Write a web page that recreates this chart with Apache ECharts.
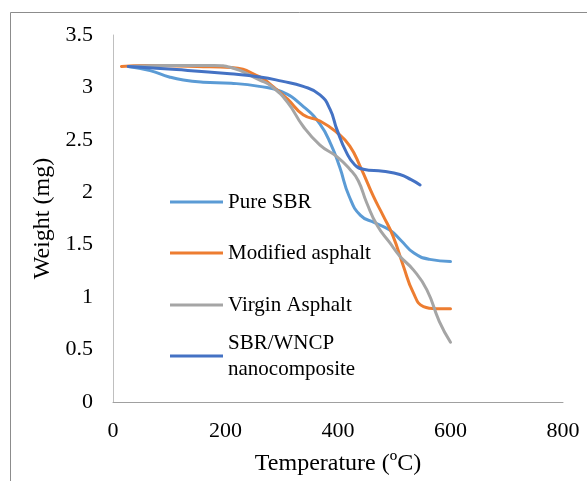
<!DOCTYPE html>
<html>
<head>
<meta charset="utf-8">
<title>Weight vs Temperature</title>
<script src="https://cdn.jsdelivr.net/npm/echarts@6/dist/echarts.min.js"></script>
<style>
  html, body { margin: 0; padding: 0; background: #fff; }
  #chart { width: 587px; height: 481px; }
</style>
</head>
<body>
<div id="chart"></div>
<script>
// Thermogravimetric curves: [temperature (°C), weight (mg)]
const pureSBR = [
  [27, 3.20], [66, 3.16], [100, 3.10], [125, 3.07], [160, 3.05], [210, 3.04],
  [260, 3.01], [300, 2.96], [338, 2.82], [368, 2.65], [388, 2.45], [403, 2.24],
  [420, 1.96], [440, 1.78], [465, 1.71], [492, 1.64], [512, 1.54], [535, 1.42],
  [563, 1.36], [600, 1.34]
];
const modifiedAsphalt = [
  [15, 3.20], [60, 3.21], [150, 3.20], [210, 3.19], [261, 3.10], [282, 3.02],
  [310, 2.89], [338, 2.74], [368, 2.68], [398, 2.57], [421, 2.44], [440, 2.24],
  [463, 1.96], [480, 1.78], [498, 1.58], [516, 1.30], [534, 1.04], [552, 0.91],
  [575, 0.89], [600, 0.89]
];
const virginAsphalt = [
  [27, 3.20], [100, 3.21], [180, 3.21], [210, 3.19], [261, 3.07], [282, 3.01],
  [310, 2.86], [338, 2.63], [368, 2.45], [398, 2.34], [421, 2.22], [436, 2.11],
  [451, 1.90], [470, 1.68], [492, 1.52], [510, 1.39], [534, 1.26], [558, 1.07],
  [580, 0.77], [600, 0.57]
];
const sbrWncp = [
  [27, 3.20], [113, 3.17], [208, 3.13], [261, 3.10], [300, 3.06], [338, 3.01],
  [368, 2.93], [386, 2.79], [398, 2.60], [415, 2.38], [430, 2.26], [445, 2.22],
  [480, 2.20], [510, 2.17], [530, 2.12], [546, 2.07]
];

const seriesNames = ['Pure SBR', 'Modified asphalt', 'Virgin Asphalt', 'SBR/WNCP\nnanocomposite'];
const seriesColors = ['#5B9BD5', '#ED7D31', '#A5A5A5', '#4472C4'];
const seriesData = [pureSBR, modifiedAsphalt, virginAsphalt, sbrWncp];

const xTicks = { min: 0, max: 800, interval: 200 };
const yTicks = { min: 0, max: 3.5, interval: 0.5 };

const FONT = 'Liberation Serif, Times New Roman, serif';
const chart = echarts.init(document.getElementById('chart'), null, { renderer: 'canvas' });

// One legend block per series so each entry sits at its own spot
const legendTops = [189, 240, 292, 317];
const legends = seriesNames.map((name, i) => ({
  data: [name],
  left: 170,
  top: legendTops[i],
  padding: 0,
  orient: 'vertical',
  icon: 'rect',
  itemWidth: 53,
  itemHeight: 3,
  selectedMode: false,
  textStyle: {
    fontFamily: FONT,
    fontSize: 21,
    color: '#000',
    lineHeight: 26,
    padding: i === 3 ? [26, 0, 0, 0] : 0
  }
}));

chart.setOption({
  animation: false,
  backgroundColor: '#fff',
  graphic: [{
    type: 'rect',
    shape: { x: 10.5, y: 12.5, width: 800, height: 700 },
    style: { fill: 'none', stroke: '#8c8c8c', lineWidth: 1 },
    silent: true,
    z: -1
  }],
  grid: { left: 113, right: 24, top: 35, bottom: 78, containLabel: false },
  legend: legends,
  xAxis: {
    type: 'value',
    min: xTicks.min, max: xTicks.max, interval: xTicks.interval,
    name: 'Temperature (ºC)',
    nameLocation: 'middle',
    nameGap: 50,
    nameTextStyle: { fontFamily: FONT, fontSize: 24, color: '#000' },
    axisLine: { show: true, lineStyle: { color: '#A0A0A0', width: 1 } },
    axisTick: { show: false },
    splitLine: { show: false },
    axisLabel: { fontFamily: FONT, fontSize: 22, color: '#000', margin: 18 }
  },
  yAxis: {
    type: 'value',
    min: yTicks.min, max: yTicks.max, interval: yTicks.interval,
    name: 'Weight (mg)',
    nameLocation: 'middle',
    nameGap: 58,
    nameTextStyle: { fontFamily: FONT, fontSize: 24, color: '#000' },
    axisLine: { show: true, lineStyle: { color: '#BFBFBF', width: 1 } },
    axisTick: { show: false },
    splitLine: { show: false },
    axisLabel: { fontFamily: FONT, fontSize: 22, color: '#000', margin: 20 }
  },
  series: seriesNames.map((name, i) => ({
    name: name,
    type: 'line',
    data: seriesData[i],
    smooth: 0.5,
    showSymbol: false,
    symbol: 'none',
    color: seriesColors[i],
    lineStyle: { color: seriesColors[i], width: 3, cap: 'round' },
    z: 2 + (i === 3 ? 1 : 0)
  }))
});
</script>
</body>
</html>
